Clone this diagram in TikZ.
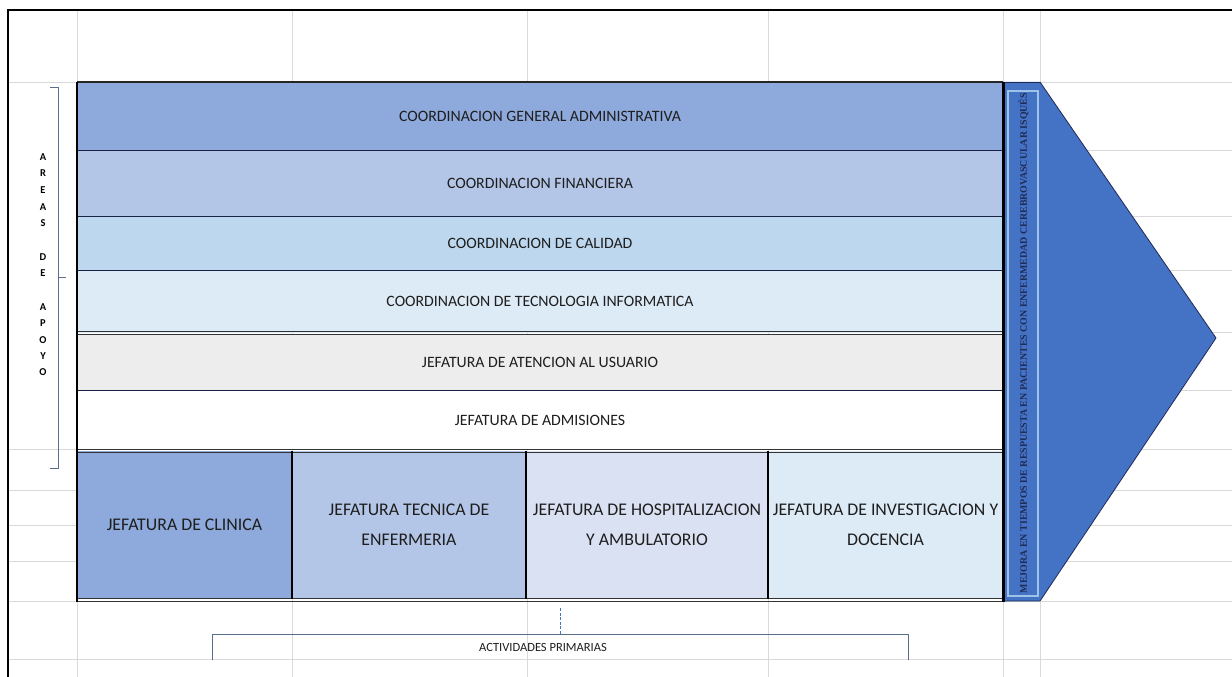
\documentclass[tikz,border=0pt]{standalone}
\usepackage{fontspec}
\setmainfont{Carlito}
\newfontfamily\tnr{Liberation Serif}
\definecolor{cA}{HTML}{8EA9DB}
\definecolor{cB}{HTML}{B4C6E7}
\definecolor{cC}{HTML}{BDD7EE}
\definecolor{cD}{HTML}{DDEBF7}
\definecolor{cE}{HTML}{EDEDED}
\definecolor{cF}{HTML}{D9E1F2}
\definecolor{cBlue}{HTML}{4472C4}
\definecolor{cInner}{HTML}{9DC3E6}
\definecolor{cNavy}{HTML}{1F2A55}
\definecolor{cBr}{HTML}{5A6E8C}
\definecolor{cGrid}{HTML}{D9D9D9}
\definecolor{cTxt}{HTML}{1E1E1E}
\begin{document}
\begin{tikzpicture}[x=1pt,y=-1pt,
  grid/.style={draw=cGrid, line width=0.9},
  rowbox/.style={inner sep=0, minimum width=926, text=cTxt, font=\fontsize{15.8}{18}\selectfont},
  colbox/.style={inner sep=0, align=center, text=cTxt, font=\fontsize{17.8}{30}\selectfont},
  sep/.style={draw=cNavy!80!black, line width=1},
  dbl/.style={draw=black!80, line width=0.9},
  thick/.style={draw=black, line width=2.6},
  brk/.style={draw=cBr, line width=1},
  lett/.style={font=\bfseries\fontsize{10.5}{11}\selectfont, text=black, inner sep=0}
]
\useasboundingbox (0,0) rectangle (1232,677);
\fill[white] (0,0) rectangle (1232,677);
% spreadsheet grid
\foreach \x in {77,292,527,768,1003,1040} \draw[grid] (\x,10) -- (\x,677);
\draw[grid] (8,82) -- (1232,82);
\foreach \y in {150,216,270,332,390} \draw[grid] (1040,\y) -- (1232,\y);
\foreach \y in {449,490,525,561,601,659} \draw[grid] (8,\y) -- (1232,\y);
\draw[black, line width=1.6] (8,677) -- (8,10) -- (1232,10);

% rows
\node[rowbox, fill=cA, minimum height=68] (r1) at (540,116) {COORDINACION GENERAL ADMINISTRATIVA};
\node[rowbox, fill=cB, minimum height=66] (r2) at (540,183) {COORDINACION FINANCIERA};
\node[rowbox, fill=cC, minimum height=54] (r3) at (540,243) {COORDINACION DE CALIDAD};
\node[rowbox, fill=cD, minimum height=63] (r4) at (540,301.5) {COORDINACION DE TECNOLOGIA INFORMATICA};
\node[rowbox, fill=cE, minimum height=56] (r5) at (540,362) {JEFATURA DE ATENCION AL USUARIO};
\node[rowbox, fill=white, minimum height=59] (r6) at (540,420) {JEFATURA DE ADMISIONES};

% primary columns
\node[colbox, fill=cA, minimum width=215, minimum height=148] (b1) at (184.5,525) {JEFATURA DE CLINICA};
\node[colbox, fill=cB, minimum width=234, minimum height=148] (b2) at (409,525) {JEFATURA TECNICA DE\\ENFERMERIA};
\node[colbox, fill=cF, minimum width=242, minimum height=148] (b3) at (647,525) {JEFATURA DE HOSPITALIZACION\\Y AMBULATORIO};
\node[colbox, fill=cD, minimum width=235, minimum height=148] (b4) at (885.5,525) {JEFATURA DE INVESTIGACION Y\\DOCENCIA};

% separators
\draw[sep] (r1.south west) -- (r1.south east);
\draw[sep] (r2.south west) -- (r2.south east);
\draw[sep] (r3.south west) -- (r3.south east);
\draw[sep] (r5.south west) -- (r5.south east);
\draw[dbl] (77,331.5) -- (1003,331.5);
\draw[dbl] (77,334.5) -- (1003,334.5);
\draw[dbl] (77,449) -- (1003,449);
\draw[dbl] (77,452) -- (1003,452);
\draw[dbl] (77,598) -- (1003,598);
\draw[dbl] (77,601) -- (1003,601);
\draw[draw=black, line width=1.6] (b1.north east) -- (b1.south east);
\draw[draw=black, line width=1.6] (b2.north east) -- (b2.south east);
\draw[draw=black, line width=1.6] (b3.north east) -- (b3.south east);
\draw[draw=black!85, line width=1.2] (77,82) -- (1003,82);
\draw[thick] (77,82) -- (77,601.5);

% value arrow
\coordinate (a1) at (1003,82);
\coordinate (a2) at (1040,82);
\coordinate (tip) at (1216,338);
\coordinate (a3) at (1040,601);
\coordinate (a4) at (1003,601);
\fill[cBlue] (a1) -- (a2) -- (tip) -- (a3) -- (a4) -- cycle;
\draw[cNavy, line width=0.8] (a2) -- (tip) -- (a3) -- (a4);
\draw[cNavy, line width=0.8] (a1) -- (a2);
\draw[cInner, line width=1.3] (1008,91) rectangle (1038,596);
\draw[draw=black, line width=3] (1003,82) -- (1003,601.5);
\node[rotate=90, inner sep=0, text=cNavy, font=\tnr\bfseries\fontsize{9.9}{11}\selectfont] (val) at (1023.5,343)
  {MEJORA EN TIEMPOS DE RESPUESTA EN PACIENTES CON ENFERMEDAD CEREBROVASCULAR ISQUÉS};

% support bracket
\coordinate (s1) at (50,88);
\coordinate (s2) at (58,88);
\coordinate (s3) at (58,468);
\coordinate (s4) at (50,468);
\coordinate (sm) at (58,277);
\coordinate (sm2) at (66,277);
\draw[brk] (s1) -- (s2) -- (s3) -- (s4);
\draw[brk] (sm) -- (sm2);
\foreach \l/\y [count=\i] in {A/157,R/173,E/190,A/207,S/223,D/257,E/273,A/307,P/323,O/340,Y/356,O/372}
  \node[lett] (L\i) at (43,\y) {\l};

% primary bracket
\coordinate (p1) at (212,660);
\coordinate (p2) at (212,634);
\coordinate (p3) at (908,634);
\coordinate (p4) at (908,660);
\coordinate (q1) at (560,608);
\coordinate (q2) at (560,634);
\draw[brk] (p1) -- (p2) -- (p3) -- (p4);
\draw[draw=cBlue, line width=1, dash pattern=on 3pt off 1.5pt] (q1) -- (q2);
\node[inner sep=0, text=cTxt, font=\fontsize{12.5}{14}\selectfont] (act) at (543,647) {ACTIVIDADES PRIMARIAS};
\end{tikzpicture}
\end{document}
